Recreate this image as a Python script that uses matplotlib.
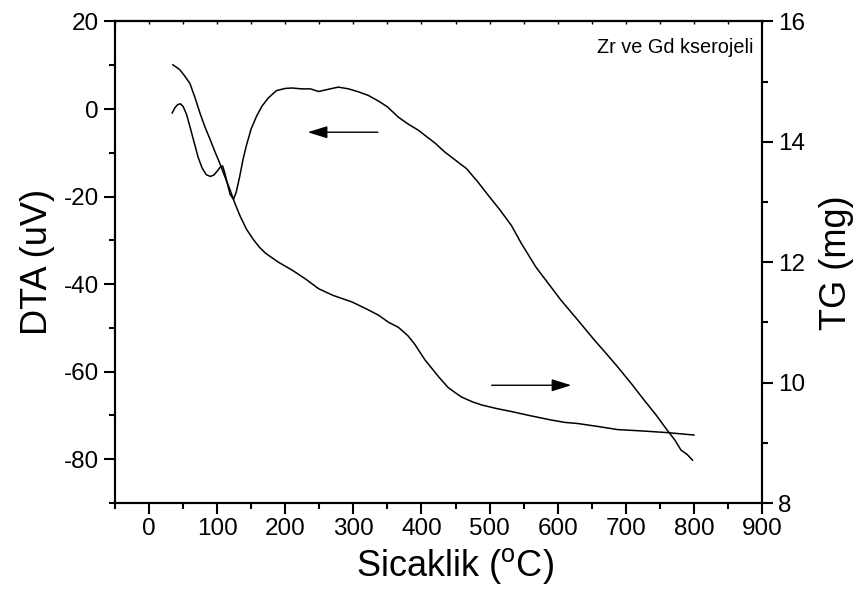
import matplotlib
matplotlib.use("Agg")
import matplotlib.pyplot as plt
from matplotlib.ticker import MultipleLocator

plt.rcParams['font.family'] = ['Liberation Sans', 'DejaVu Sans']
plt.rcParams['mathtext.fontset'] = 'custom'
plt.rcParams['mathtext.rm'] = 'Liberation Sans'
plt.rcParams['axes.unicode_minus'] = False

# DTA curve (left axis)
dta_t = [34, 38, 42, 46, 50, 55, 60, 66, 72, 78, 84, 90, 95, 100, 105, 108,
         111, 115, 119, 124, 128, 133, 138, 143, 150, 158, 166, 175, 187, 200,
         210, 224, 237, 249, 263, 278, 293, 308, 322, 337, 350, 366, 381, 395,
         405, 420, 434, 450, 466, 482, 498, 515, 532, 547, 568, 586, 605, 630,
         654, 671, 688, 708, 727, 745, 761, 772, 781, 790, 798]
dta_v = [-0.9, 0.3, 1.0, 1.2, 0.6, -1.2, -4, -7.5, -11, -13.5, -15, -15.4,
         -15.1, -14.2, -13.2, -13, -14.5, -17, -19.5, -20.6, -19, -15.5, -11.5,
         -8.3, -4.5, -1.6, 0.7, 2.5, 4.2, 4.7, 4.8, 4.6, 4.6, 4.0, 4.5, 5.0, 4.6,
         3.9, 3.1, 1.8, 0.5, -1.85, -3.5, -4.8, -6, -7.8, -9.8, -11.7, -13.6,
         -16.5, -19.7, -23, -26.6, -30.8, -36.1, -39.8, -43.7, -48.3, -52.8,
         -55.8, -58.9, -62.7, -66.5, -70, -73.4, -75.6, -77.9, -78.9, -80.2]

# TG curve (right axis)
tg_t = [35, 45, 52, 60, 67, 75, 82, 90, 97, 104, 111, 119, 126, 134, 143, 153,
        162, 171, 190, 210, 230, 249, 270, 298, 320, 337, 352, 366, 380, 390,
        405, 425, 439, 450, 459, 475, 488, 510, 532, 560, 590, 610, 630, 660,
        688, 720, 761, 780, 800]
tg_m = [15.28, 15.2, 15.1, 14.97, 14.75, 14.47, 14.25, 14.03, 13.83, 13.64,
        13.43, 13.2, 12.98, 12.76, 12.55, 12.38, 12.25, 12.15, 12.0, 11.87,
        11.72, 11.56, 11.45, 11.34, 11.22, 11.12, 11.0, 10.92, 10.78, 10.64,
        10.38, 10.1, 9.92, 9.83, 9.76, 9.68, 9.63, 9.57, 9.52, 9.45, 9.38,
        9.34, 9.32, 9.27, 9.22, 9.2, 9.17, 9.15, 9.13]

fig = plt.figure(figsize=(8.62, 5.96), dpi=100)
ax = fig.add_axes([0.1334, 0.156, 0.7506, 0.808])
ax2 = ax.twinx()

ax.plot(dta_t, dta_v, color='black', lw=1.1)
ax2.plot(tg_t, tg_m, color='black', lw=1.1)

ax.set_xlim(-50, 900)
ax.set_ylim(-90, 20)
ax2.set_ylim(8, 16)

ax.xaxis.set_major_locator(MultipleLocator(100))
ax.xaxis.set_minor_locator(MultipleLocator(50))
ax.yaxis.set_major_locator(MultipleLocator(20))
ax.yaxis.set_minor_locator(MultipleLocator(10))
ax2.yaxis.set_major_locator(MultipleLocator(2))
ax2.yaxis.set_minor_locator(MultipleLocator(1))

for a in (ax, ax2):
    for s in a.spines.values():
        s.set_linewidth(1.5)

ax.tick_params(axis='both', which='major', direction='out', length=8, width=1.5,
               labelsize=17.5, top=False, right=False)
ax.tick_params(axis='both', which='minor', direction='out', length=4, width=1.5,
               top=False, right=False)
ax.tick_params(axis='x', pad=3)
ax2.tick_params(axis='y', which='major', direction='out', length=8, width=1.5,
                labelsize=17.5)
ax2.tick_params(axis='y', which='minor', direction='out', length=4, width=1.5)

# small marks along the top edge
sec = ax.secondary_xaxis('top')
sec.xaxis.set_major_locator(MultipleLocator(50))
sec.tick_params(direction='in', length=2.5, width=1, labeltop=False)
sec.spines['top'].set_linewidth(1.5)

ax.set_xlabel('Sicaklik ($^{\\rm o}$C)', fontsize=26, labelpad=2)
ax.xaxis.set_label_coords(0.525, -0.09, transform=ax.transAxes)
ax.set_ylabel('DTA (uV)', fontsize=26, labelpad=6)
ax2.set_ylabel('TG (mg)', fontsize=26, labelpad=10)

ax.text(0.987, 0.945, 'Zr ve Gd kserojeli', transform=ax.transAxes,
        ha='right', va='center', fontsize=14.3)

arrow = dict(arrowstyle='-|>,head_length=0.8,head_width=0.25', color='black',
             lw=1.0, mutation_scale=15, shrinkA=0, shrinkB=0)
ax.annotate('', xy=(233, -5.3), xytext=(336, -5.3), arrowprops=arrow)
ax.annotate('', xy=(620, -63.1), xytext=(503, -63.1), arrowprops=arrow)

fig.savefig('out.png', dpi=100)
